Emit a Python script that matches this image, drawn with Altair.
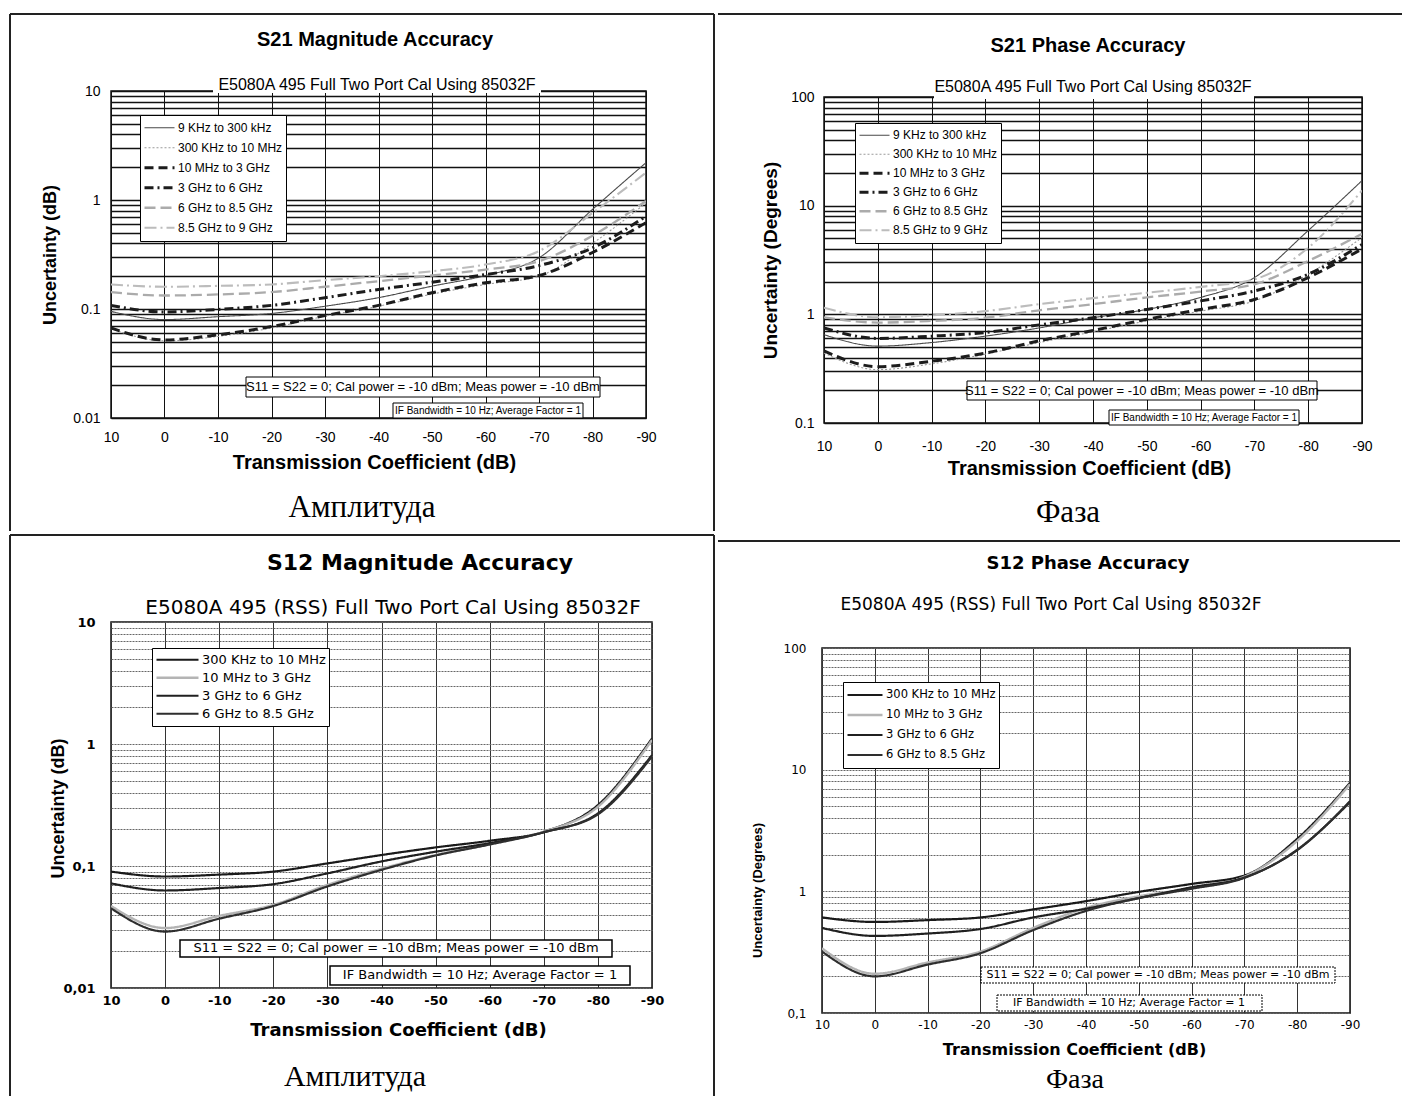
import altair as alt
import pandas as pd

# ---------------- data ----------------
X_DB = [10, 0, -10, -20, -30, -40, -50, -60, -70, -80, -90]
X_TICK_LABELS = ["10", "0", "-10", "-20", "-30", "-40", "-50", "-60", "-70", "-80", "-90"]

MAG_DECADES = [0.01, 0.1, 1, 10]
MAG_LABELS_DOT = ["0.01", "0.1", "1", "10"]
MAG_LABELS_COMMA = ["0,01", "0,1", "1", "10"]
PH_DECADES = [0.1, 1, 10, 100]
PH_LABELS_DOT = ["0.1", "1", "10", "100"]
PH_LABELS_COMMA = ["0,1", "1", "10", "100"]

S21_BANDS = ["9 KHz to 300 kHz", "300 KHz to 10 MHz", "10 MHz to 3 GHz",
             "3 GHz to 6 GHz", "6 GHz to 8.5 GHz", "8.5 GHz to 9 GHz"]
S12_BANDS = ["300 KHz to 10 MHz", "10 MHz to 3 GHz", "3 GHz to 6 GHz", "6 GHz to 8.5 GHz"]

# S21 magnitude uncertainty (dB)
S21M_9K = [0.095, 0.080, 0.085, 0.091, 0.106, 0.127, 0.162, 0.203, 0.295, 0.82, 2.2]
S21M_300K = [0.066, 0.051, 0.056, 0.067, 0.086, 0.106, 0.137, 0.168, 0.200, 0.40, 0.94]
S21M_10M = [0.067, 0.052, 0.058, 0.069, 0.087, 0.108, 0.141, 0.174, 0.203, 0.33, 0.62]
S21M_3G = [0.108, 0.094, 0.099, 0.108, 0.127, 0.151, 0.176, 0.207, 0.250, 0.364, 0.71]
S21M_6G = [0.143, 0.133, 0.136, 0.143, 0.160, 0.180, 0.203, 0.230, 0.275, 0.47, 0.98]
S21M_85G = [0.168, 0.160, 0.163, 0.168, 0.184, 0.200, 0.222, 0.256, 0.340, 0.76, 1.78]

# S21 phase uncertainty (degrees)
S21P_9K = [0.65, 0.51, 0.55, 0.63, 0.75, 0.93, 1.11, 1.43, 2.18, 5.9, 17.0]
S21P_300K = [0.44, 0.31, 0.35, 0.43, 0.55, 0.69, 0.87, 1.07, 1.33, 2.34, 5.1]
S21P_10M = [0.46, 0.33, 0.37, 0.44, 0.57, 0.71, 0.90, 1.11, 1.37, 2.18, 4.0]
S21P_3G = [0.75, 0.60, 0.63, 0.68, 0.80, 0.93, 1.11, 1.33, 1.64, 2.34, 4.4]
S21P_6G = [0.94, 0.84, 0.87, 0.93, 1.09, 1.24, 1.43, 1.62, 1.89, 3.1, 5.5]
S21P_85G = [1.15, 0.94, 0.98, 1.07, 1.24, 1.41, 1.58, 1.79, 2.10, 4.1, 13.8]

# S12 magnitude uncertainty (dB)
S12M_300K = [0.090, 0.082, 0.085, 0.090, 0.105, 0.123, 0.142, 0.161, 0.191, 0.316, 1.11]
S12M_10M = [0.047, 0.031, 0.039, 0.048, 0.070, 0.095, 0.123, 0.151, 0.191, 0.306, 1.08]
S12M_3G = [0.072, 0.063, 0.066, 0.071, 0.087, 0.109, 0.131, 0.154, 0.189, 0.270, 0.81]
S12M_6G = [0.045, 0.029, 0.037, 0.047, 0.068, 0.093, 0.122, 0.150, 0.189, 0.265, 0.79]

# S12 phase uncertainty (degrees)
S12P_300K = [0.61, 0.56, 0.58, 0.61, 0.71, 0.83, 0.99, 1.15, 1.35, 2.7, 7.8]
S12P_10M = [0.34, 0.21, 0.26, 0.32, 0.50, 0.73, 0.91, 1.06, 1.32, 2.6, 7.6]
S12P_3G = [0.50, 0.43, 0.45, 0.49, 0.61, 0.72, 0.88, 1.08, 1.30, 2.18, 5.5]
S12P_6G = [0.32, 0.20, 0.25, 0.31, 0.48, 0.69, 0.88, 1.05, 1.29, 2.2, 5.4]

NOTE_POWER = "S11 = S22 = 0; Cal power = -10 dBm; Meas power = -10 dBm"
NOTE_IF = "IF Bandwidth = 10 Hz; Average Factor = 1"

# ---------------- styles ----------------
NARROW = "Liberation Sans Narrow, Arial Narrow, Liberation Sans, sans-serif"
WIDE = "DejaVu Sans, Verdana, sans-serif"
SERIF = "Liberation Serif, DejaVu Serif, serif"

S21_COLORS = ["#4a4a4a", "#9a9a9a", "#1c1c1c", "#1c1c1c", "#ababab", "#bcbcbc"]
S21_DASHES = [[1, 0], [2, 2], [9, 5], [9, 4, 2, 4], [11, 5], [12, 4, 2, 4]]
S21_WIDTHS = [1.1, 1.1, 3.0, 3.0, 2.3, 2.1]

S12_COLORS = ["#1a1a1a", "#b4b4b4", "#202020", "#2e2e2e"]
S12_DASHES = [[1, 0], [1, 0], [1, 0], [1, 0]]
S12_WIDTHS = [2.2, 2.4, 2.2, 2.2]

ONE = pd.DataFrame({"k": [0]})


def long_df(bands, series):
    rows = []
    for b, vals in zip(bands, series):
        for x, v in zip(X_DB, vals):
            rows.append({"band": b, "x": x, "v": v})
    return pd.DataFrame(rows)


def grid_values(decades):
    vals = [round(d * k, 6) for d in decades[:-1] for k in range(1, 10)]
    return vals + [decades[-1]]


def label_expr(values, labels):
    return " : ".join(f"datum.value == {v} ? '{l}'" for v, l in zip(values, labels)) + " : ''"


def txt(x, y, s, font, size, weight="normal", angle=0, align="center"):
    return alt.Chart(ONE).mark_text(
        text=s, font=font, fontSize=size, fontWeight=weight, align=align,
        baseline="middle", color="black", angle=angle
    ).encode(x=alt.value(x), y=alt.value(y))


def box(x1, x2, y1, y2, dash=False, sw=1.0):
    kw = dict(fill="white", stroke="black", strokeWidth=sw)
    if dash:
        kw["strokeDash"] = [2, 1]
    return alt.Chart(ONE).mark_rect(**kw).encode(
        x=alt.value(x1), x2=alt.value(x2), y=alt.value(y1), y2=alt.value(y2))


def white(x1, x2, y1, y2):
    return alt.Chart(ONE).mark_rect(fill="white", strokeWidth=0).encode(
        x=alt.value(x1), x2=alt.value(x2), y=alt.value(y1), y2=alt.value(y2))


def hrule(x1, x2, y, w=2.0):
    return alt.Chart(ONE).mark_rule(color="#222", strokeWidth=w).encode(
        x=alt.value(x1), x2=alt.value(x2), y=alt.value(y))


def vrule(x, y1, y2, w=2.0):
    return alt.Chart(ONE).mark_rule(color="#222", strokeWidth=w).encode(
        x=alt.value(x), y=alt.value(y1), y2=alt.value(y2))


def panel(p):
    df = long_df(p["bands"], p["series"])
    leg = alt.Legend(
        title=None, orient="none", legendX=p["leg_x"], legendY=p["leg_y"],
        symbolType="stroke", symbolSize=p["sym"], labelFont=p["leg_font"],
        labelFontSize=p["leg_fs"], labelColor="black", fillColor="white",
        strokeColor="black", padding=p["leg_pad"], rowPadding=0,
        clipHeight=p["leg_row"], labelOffset=2, labelLimit=400,
    )
    xgrid = dict(gridColor=p["xgrid_color"], gridWidth=p["xgrid_w"])
    ygrid = dict(gridColor=p["ygrid_color"], gridWidth=p["ygrid_w"])
    if p.get("ygrid_dash"):
        ygrid["gridDash"] = p["ygrid_dash"]
    xaxis = alt.Axis(
        values=X_DB, labelExpr=label_expr(X_DB, X_TICK_LABELS),
        title="Transmission Coefficient (dB)", ticks=False, domain=False, grid=True,
        labelFont=p["tick_font"], labelFontSize=p["tick_fs"], labelFontWeight=p["tick_w"],
        labelColor="black", labelPadding=p["xlab_pad"], labelFlush=False, labelOverlap=False,
        titleFont=p["xt_font"], titleFontSize=p["xt_fs"], titleFontWeight="bold",
        titleColor="black", titleX=p["xt_x"], titleY=p["xt_y"], titleBaseline="middle",
        titleAlign="center", **xgrid,
    )
    yaxis = alt.Axis(
        values=grid_values(p["dec"]), labelExpr=label_expr(p["dec"], p["ylabels"]),
        title=p["ytitle"], ticks=False, domain=False, grid=True,
        labelFont=p["tick_font"], labelFontSize=p["tick_fs"], labelFontWeight=p["tick_w"],
        labelColor="black", labelPadding=p["ylab_pad"], labelOverlap=False, labelFlush=False,
        titleFont=p["yt_font"], titleFontSize=p["yt_fs"], titleFontWeight="bold",
        titleColor="black", titleX=p["yt_x"], titleY=p["yt_y"], titleAngle=270,
        titleBaseline="middle", titleAlign="center", **ygrid,
    )
    lines = alt.Chart(df).mark_line(interpolate="monotone", clip=True).encode(
        x=alt.X("x:Q", scale=alt.Scale(domain=[10, -90], nice=False, zero=False), axis=xaxis),
        y=alt.Y("v:Q", scale=alt.Scale(type="log", domain=[p["dec"][0], p["dec"][-1]], nice=False), axis=yaxis),
        color=alt.Color("band:O", scale=alt.Scale(type="ordinal", domain=p["bands"], range=p["colors"]), legend=leg),
        strokeDash=alt.StrokeDash("band:O", scale=alt.Scale(type="ordinal", domain=p["bands"], range=p["dashes"]), legend=leg),
        strokeWidth=alt.StrokeWidth("band:O", scale=alt.Scale(type="ordinal", domain=p["bands"], range=p["widths"]), legend=leg),
    )
    layers = [lines] + p["extras"]
    return alt.layer(*layers).properties(width=p["w"], height=p["h"])


# ---------------- panels ----------------
W1, H1 = 535, 327
p1 = panel(dict(
    bands=S21_BANDS, series=[S21M_9K, S21M_300K, S21M_10M, S21M_3G, S21M_6G, S21M_85G],
    colors=S21_COLORS, dashes=S21_DASHES, widths=S21_WIDTHS,
    dec=MAG_DECADES, ylabels=MAG_LABELS_DOT, ytitle="Uncertainty (dB)",
    w=W1, h=H1,
    leg_x=29, leg_y=24, sym=900, leg_font=NARROW, leg_fs=12, leg_pad=3, leg_row=19.5,
    xgrid_color="#111", xgrid_w=1.0, ygrid_color="#111", ygrid_w=1.4,
    tick_font=NARROW, tick_fs=14, tick_w="normal", xlab_pad=12, ylab_pad=11,
    xt_font=NARROW, xt_fs=20, xt_x=263, xt_y=44,
    yt_font=NARROW, yt_fs=18, yt_x=-61, yt_y=H1 / 2,
    extras=[
        white(102, 430, -14, 2),
        txt(264, -51, "S21 Magnitude Accuracy", NARROW, 20, "bold"),
        txt(266, -6, "E5080A 495 Full Two Port Cal Using 85032F", NARROW, 16),
        box(135, 489, 286, 306),
        txt(312, 296, NOTE_POWER, NARROW, 13),
        box(282, 472, 312, 327),
        txt(377, 320, NOTE_IF, NARROW, 10),
        txt(251, 417, "Амплитуда", SERIF, 31),
        hrule(-101, 603, -77),
        vrule(603, -77, 440),
        vrule(-101, -77, 440),
    ],
))

W2, H2 = 538, 326
p2 = panel(dict(
    bands=S21_BANDS, series=[S21P_9K, S21P_300K, S21P_10M, S21P_3G, S21P_6G, S21P_85G],
    colors=S21_COLORS, dashes=S21_DASHES, widths=S21_WIDTHS,
    dec=PH_DECADES, ylabels=PH_LABELS_DOT, ytitle="Uncertainty (Degrees)",
    w=W2, h=H2,
    leg_x=31, leg_y=26, sym=900, leg_font=NARROW, leg_fs=12, leg_pad=3, leg_row=18.5,
    xgrid_color="#111", xgrid_w=1.0, ygrid_color="#111", ygrid_w=1.4,
    tick_font=NARROW, tick_fs=14, tick_w="normal", xlab_pad=16, ylab_pad=10,
    xt_font=NARROW, xt_fs=20, xt_x=265, xt_y=45,
    yt_font=NARROW, yt_fs=19, yt_x=-54, yt_y=H2 / 2,
    extras=[
        white(110, 430, -16, 2),
        txt(264, -51, "S21 Phase Accuracy", NARROW, 20, "bold"),
        txt(269, -10, "E5080A 495 Full Two Port Cal Using 85032F", NARROW, 16),
        box(143, 493, 284, 303),
        txt(318, 294, NOTE_POWER, NARROW, 13),
        box(285, 475, 313, 328),
        txt(380, 321, NOTE_IF, NARROW, 10),
        txt(244, 416, "Фаза", SERIF, 31),
        hrule(-106, 578, -83),
    ],
))

W3, H3 = 541, 366
p3 = panel(dict(
    bands=S12_BANDS, series=[S12M_300K, S12M_10M, S12M_3G, S12M_6G],
    colors=S12_COLORS, dashes=S12_DASHES, widths=S12_WIDTHS,
    dec=MAG_DECADES, ylabels=MAG_LABELS_COMMA, ytitle="Uncertainty (dB)",
    w=W3, h=H3,
    leg_x=41, leg_y=26, sym=1764, leg_font=WIDE, leg_fs=13, leg_pad=3, leg_row=17.5,
    xgrid_color="#333", xgrid_w=1.0, ygrid_color="#666", ygrid_w=1.0, ygrid_dash=[2, 1],
    tick_font=WIDE, tick_fs=13, tick_w="bold", xlab_pad=6, ylab_pad=16,
    xt_font=WIDE, xt_fs=18, xt_x=287, xt_y=42,
    yt_font=NARROW, yt_fs=18, yt_x=-53, yt_y=186,
    extras=[
        txt(309, -59, "S12 Magnitude Accuracy", WIDE, 22, "bold"),
        txt(282, -14, "E5080A 495 (RSS) Full Two Port Cal Using 85032F", WIDE, 20),
        box(69, 501, 318, 335, sw=1.5),
        txt(285, 326, NOTE_POWER, WIDE, 13),
        box(219, 519, 344, 363, sw=1.5),
        txt(369, 353, NOTE_IF, WIDE, 13),
        txt(244, 455, "Амплитуда", SERIF, 30),
        hrule(-101, 603, -87),
        vrule(603, -87, 474),
        vrule(-101, -87, 474),
    ],
))

W4, H4 = 528, 365
p4 = panel(dict(
    bands=S12_BANDS, series=[S12P_300K, S12P_10M, S12P_3G, S12P_6G],
    colors=S12_COLORS, dashes=S12_DASHES, widths=S12_WIDTHS,
    dec=PH_DECADES, ylabels=PH_LABELS_COMMA, ytitle="Uncertainty (Degrees)",
    w=W4, h=H4,
    leg_x=21, leg_y=34, sym=1225, leg_font=WIDE, leg_fs=11.5, leg_pad=3, leg_row=20,
    xgrid_color="#333", xgrid_w=1.0, ygrid_color="#666", ygrid_w=1.0, ygrid_dash=[2, 1],
    tick_font=WIDE, tick_fs=12, tick_w="normal", xlab_pad=6, ylab_pad=16,
    xt_font=WIDE, xt_fs=16, xt_x=252, xt_y=36,
    yt_font=NARROW, yt_fs=13, yt_x=-65, yt_y=242,
    extras=[
        txt(266, -84, "S12 Phase Accuracy", WIDE, 18, "bold"),
        txt(229, -43, "E5080A 495 (RSS) Full Two Port Cal Using 85032F", WIDE, 17),
        box(159, 513, 319, 335, dash=True),
        txt(336, 327, NOTE_POWER, WIDE, 11),
        box(175, 440, 347, 363, dash=True),
        txt(307, 355, NOTE_IF, WIDE, 11),
        txt(253, 432, "Фаза", SERIF, 28),
        hrule(-104, 578, -107),
    ],
))


def spacer():
    # an empty 1x1 cell: the first grid row, so that the panel rows below are
    # placed by their own top edges
    return alt.Chart(ONE).mark_rule(opacity=0, strokeWidth=0).encode(
        x=alt.value(0), x2=alt.value(1), y=alt.value(0)
    ).properties(width=1, height=1, view=alt.ViewBackground(stroke="transparent", strokeWidth=0))


RES = dict(x="independent", y="independent", color="independent",
           strokeDash="independent", strokeWidth="independent")

chart = (
    alt.concat(spacer(), spacer(), p1, p2, p3, p4, columns=2, align="none", bounds="full", spacing=0)
    .resolve_scale(**RES)
    .resolve_legend(color="independent", strokeDash="independent", strokeWidth="independent")
    .properties(padding={"left": 0, "top": 3, "right": 0, "bottom": 0}, background="white")
    .configure_view(stroke="#111", strokeWidth=1.5)
)

chart.save("out.html", embed_options={"renderer": "svg", "actions": False})
